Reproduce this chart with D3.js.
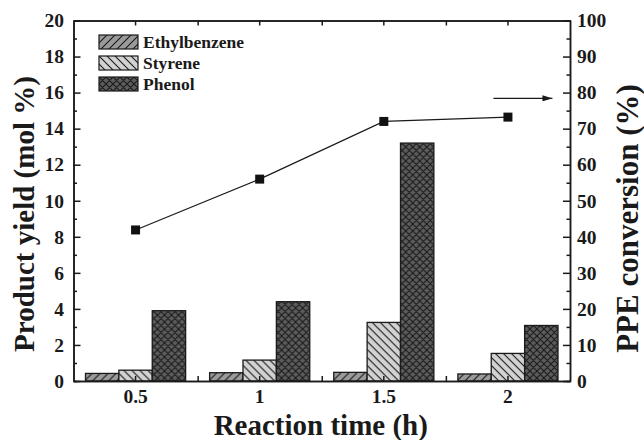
<!DOCTYPE html>
<html>
<head>
<meta charset="utf-8">
<script src="https://cdn.jsdelivr.net/npm/d3@7"></script>
<style>
  body { margin: 0; background: #fff; }
  svg { display: block; }
</style>
</head>
<body>
<svg id="chart" width="644" height="440"></svg>
<script>
// data
var categories = ["0.5", "1", "1.5", "2"];
var ethylbenzene = [0.42, 0.46, 0.48, 0.39];
var styrene = [0.60, 1.16, 3.25, 1.53];
var phenol = [3.90, 4.40, 13.20, 3.08];
var conversion = [41.9, 56.0, 72.0, 73.2];
var seriesNames = ["Ethylbenzene", "Styrene", "Phenol"];
var leftTicks = [0, 2, 4, 6, 8, 10, 12, 14, 16, 18, 20];
var rightTicks = [0, 10, 20, 30, 40, 50, 60, 70, 80, 90, 100];
var arrowValue = 78.4;

var mLeft = 73.5, mRight = 570, mTop = 20.5, mBottom = 381;
var ink = "#1a1a1a";
var serif = "'Liberation Serif', 'Times New Roman', serif";

var svg = d3.select("#chart");

var x = d3.scaleBand().domain(categories).range([mLeft, mRight]).padding(0);
var xEdge = d3.scaleLinear().domain([0, categories.length]).range([mLeft, mRight]);
var xInner = d3.scaleBand().domain(seriesNames).range([12, x.bandwidth() - 12]).padding(0);
var y = d3.scaleLinear().domain([0, 20]).range([mBottom, mTop]);
var y2 = d3.scaleLinear().domain([0, 100]).range([mBottom, mTop]);

function font(sel, size) {
    sel.style("font-family", serif).style("font-weight", "bold")
        .style("font-size", size + "px").attr("fill", ink);
}

// hatch patterns
var defs = svg.append("defs");
function pattern(id, fill, d, size) {
    var p = defs.append("pattern").attr("id", id)
        .attr("patternUnits", "userSpaceOnUse")
        .attr("width", size).attr("height", size);
    p.append("rect").attr("width", size).attr("height", size).attr("fill", fill);
    p.append("path").attr("d", d).attr("stroke", ink).attr("stroke-width", 1.1);
}
pattern("p-eb", "#9a9a9a", "M-2,2 l4,-4 M0,8 l8,-8 M6,10 l4,-4", 8);
pattern("p-st", "#d2d2d2", "M-2,6 l4,4 M0,0 l8,8 M6,-2 l4,4", 8);
pattern("p-ph", "#5c5c5c", "M-2,2 l4,-4 M0,7 l7,-7 M5,9 l4,-4 M-2,5 l4,4 M0,0 l7,7 M5,-2 l4,4", 7);
defs.append("marker").attr("id", "arrow")
    .attr("viewBox", "0 0 10 6").attr("refX", 10).attr("refY", 3)
    .attr("markerWidth", 10).attr("markerHeight", 6)
    .attr("markerUnits", "userSpaceOnUse").attr("orient", "auto")
    .append("path").attr("d", "M0,0 L10,3 L0,6 Z").attr("fill", ink);

var fills = { "Ethylbenzene": "url(#p-eb)", "Styrene": "url(#p-st)", "Phenol": "url(#p-ph)" };
var values = { "Ethylbenzene": ethylbenzene, "Styrene": styrene, "Phenol": phenol };

// bars
var groups = svg.append("g").selectAll("g")
    .data(categories)
    .enter().append("g")
    .attr("transform", function (d) { return "translate(" + x(d) + ",0)"; });

groups.selectAll("rect")
    .data(function (d, i) {
        return seriesNames.map(function (s) { return { name: s, value: values[s][i] }; });
    })
    .enter().append("rect")
    .attr("x", function (d) { return xInner(d.name); })
    .attr("y", function (d) { return y(d.value); })
    .attr("width", xInner.bandwidth())
    .attr("height", function (d) { return mBottom - y(d.value); })
    .attr("fill", function (d) { return fills[d.name]; })
    .attr("stroke", ink)
    .attr("stroke-width", 1.3);

// axes
function styleAxis(g) {
    g.selectAll("path, line").attr("stroke", ink).attr("stroke-width", 1.5);
    g.selectAll("text").call(font, 19.5);
}

svg.append("g").attr("transform", "translate(" + mLeft + ",0)")
    .call(d3.axisLeft(y).tickValues(d3.range(1, 20, 2)).tickSize(-3.5).tickFormat(""))
    .call(styleAxis);
svg.append("g").attr("transform", "translate(" + mLeft + ",0)")
    .call(d3.axisLeft(y).tickValues(leftTicks).tickSize(-7).tickSizeOuter(0).tickPadding(9.5).tickFormat(d3.format("d")))
    .call(styleAxis);

svg.append("g").attr("transform", "translate(" + mRight + ",0)")
    .call(d3.axisRight(y2).tickValues(d3.range(5, 100, 10)).tickSize(-3.5).tickFormat(""))
    .call(styleAxis);
svg.append("g").attr("transform", "translate(" + mRight + ",0)")
    .call(d3.axisRight(y2).tickValues(rightTicks).tickSize(-7).tickSizeOuter(0).tickPadding(7).tickFormat(d3.format("d")))
    .call(styleAxis);

svg.append("g").attr("transform", "translate(0," + mBottom + ")")
    .call(d3.axisBottom(x).tickSize(-5).tickSizeOuter(0).tickPadding(8.5))
    .call(styleAxis);
svg.append("g").attr("transform", "translate(0," + mBottom + ")")
    .call(d3.axisBottom(xEdge).tickValues([1, 2, 3]).tickSize(-5).tickSizeOuter(0).tickFormat(""))
    .call(styleAxis);
svg.append("g").attr("transform", "translate(0," + mTop + ")")
    .call(d3.axisTop(x).tickSize(-5).tickSizeOuter(0).tickFormat(""))
    .call(styleAxis);
svg.append("g").attr("transform", "translate(0," + mTop + ")")
    .call(d3.axisTop(xEdge).tickValues([1, 2, 3]).tickSize(-5).tickSizeOuter(0).tickFormat(""))
    .call(styleAxis);

// conversion line
var cx = function (d, i) { return x(categories[i]) + x.bandwidth() / 2; };
var line = d3.line().x(cx).y(function (d) { return y2(d); });
svg.append("path").datum(conversion)
    .attr("d", line).attr("fill", "none").attr("stroke", ink).attr("stroke-width", 1.2);
svg.selectAll(".pt").data(conversion).enter().append("rect")
    .attr("class", "pt")
    .attr("x", function (d, i) { return cx(d, i) - 4.5; })
    .attr("y", function (d) { return y2(d) - 4.5; })
    .attr("width", 9).attr("height", 9)
    .attr("fill", "#111");

// arrow pointing to the right axis
var lastX = x(categories[3]) + x.bandwidth() / 2;
svg.append("line")
    .attr("x1", lastX - 14.5).attr("x2", lastX + 44.5)
    .attr("y1", y2(arrowValue)).attr("y2", y2(arrowValue))
    .attr("stroke", ink).attr("stroke-width", 1.3)
    .attr("marker-end", "url(#arrow)");

// legend
var legend = svg.append("g").selectAll("g")
    .data(seriesNames)
    .enter().append("g")
    .attr("transform", function (d, i) { return "translate(99," + (35 + i * 21) + ")"; });
legend.append("rect")
    .attr("width", 39).attr("height", 14)
    .attr("fill", function (d) { return fills[d]; })
    .attr("stroke", ink).attr("stroke-width", 1.2);
legend.append("text")
    .attr("x", 44).attr("y", 7).attr("dy", "0.35em")
    .call(font, 17.5)
    .text(function (d) { return d; });

// titles
svg.append("text")
    .attr("x", (mLeft + mRight) / 2 - 1).attr("y", 434.5)
    .attr("text-anchor", "middle").call(font, 29)
    .text("Reaction time (h)");
svg.append("text")
    .attr("transform", "translate(24,214) rotate(-90)")
    .attr("text-anchor", "middle").attr("dy", "0.35em").call(font, 29)
    .text("Product yield (mol %)");
svg.append("text")
    .attr("transform", "translate(627,218.5) rotate(-90)")
    .attr("text-anchor", "middle").attr("dy", "0.35em").call(font, 31)
    .text("PPE conversion (%)");
</script>
</body>
</html>
